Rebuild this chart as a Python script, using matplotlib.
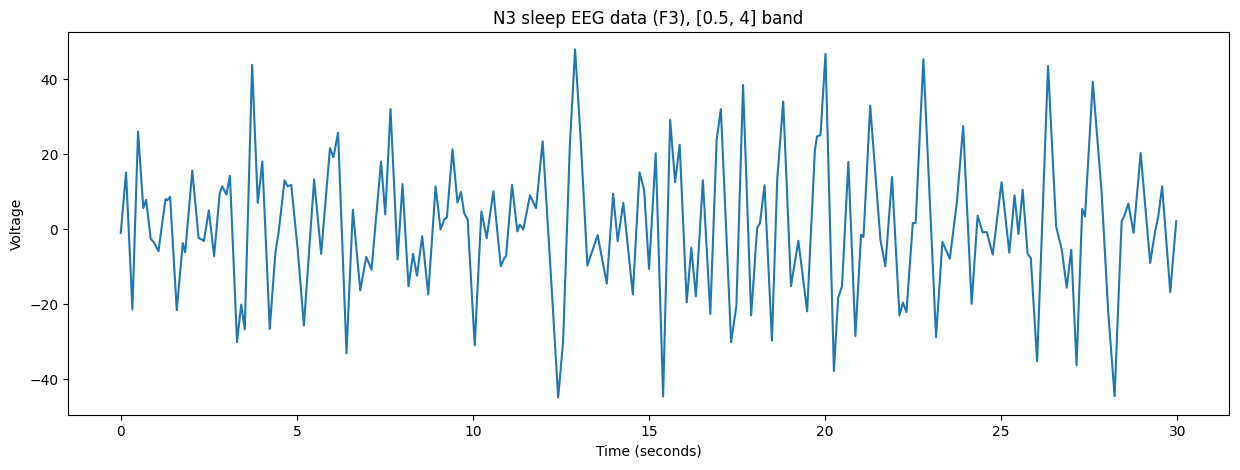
import matplotlib
matplotlib.use("Agg")
import matplotlib.pyplot as plt

time_s = [
    0.00, 0.15, 0.33, 0.49, 0.64, 0.72, 0.85, 0.94, 1.07, 1.27, 1.32, 1.40,
    1.59, 1.76, 1.83, 2.03, 2.21, 2.31, 2.36, 2.50, 2.65, 2.81, 2.88, 3.00,
    3.10, 3.30, 3.42, 3.52, 3.73, 3.89, 4.02, 4.23, 4.39, 4.48, 4.65, 4.74,
    4.84, 5.02, 5.20, 5.49, 5.69, 5.94, 6.04, 6.17, 6.41, 6.59, 6.80, 6.97,
    7.12, 7.39, 7.51, 7.66, 7.86, 8.00, 8.17, 8.30, 8.41, 8.56, 8.73, 8.94,
    9.08, 9.19, 9.26, 9.42, 9.56, 9.66, 9.75, 9.85, 10.05, 10.24, 10.39, 10.58,
    10.79, 10.89, 10.94, 11.11, 11.26, 11.33, 11.43, 11.62, 11.79, 11.98, 12.21, 12.42,
    12.56, 12.66, 12.75, 12.90, 13.06, 13.25, 13.54, 13.80, 13.98, 14.11, 14.27, 14.54,
    14.73, 14.86, 15.00, 15.19, 15.40, 15.60, 15.74, 15.87, 16.07, 16.20, 16.33, 16.53,
    16.74, 16.92, 17.04, 17.33, 17.48, 17.67, 17.90, 18.07, 18.15, 18.28, 18.49, 18.64,
    18.81, 19.03, 19.24, 19.49, 19.71, 19.77, 19.87, 20.01, 20.25, 20.37, 20.48, 20.66,
    20.86, 21.02, 21.09, 21.28, 21.57, 21.71, 21.90, 22.11, 22.21, 22.31, 22.49, 22.57,
    22.79, 23.15, 23.33, 23.54, 23.74, 23.92, 24.16, 24.33, 24.47, 24.59, 24.76, 25.01,
    25.23, 25.38, 25.49, 25.61, 25.75, 25.84, 26.02, 26.33, 26.56, 26.72, 26.86, 26.99,
    27.14, 27.30, 27.38, 27.60, 27.85, 28.04, 28.22, 28.42, 28.49, 28.61, 28.76, 28.96,
    29.23, 29.37, 29.46, 29.57, 29.80, 29.97,
]

voltage = [
    -1.0, 15.1, -21.4, 26.0, 5.6, 7.8, -2.6, -3.5, -5.9, 8.0, 7.7, 8.6,
    -21.6, -3.7, -6.2, 15.6, -2.4, -2.8, -3.2, 5.0, -7.2, 9.6, 11.4, 9.2,
    14.2, -30.1, -20.1, -26.7, 43.8, 7.0, 18.0, -26.6, -6.3, -1.0, 13.0, 11.4,
    11.8, -5.0, -25.7, 13.2, -6.6, 21.6, 19.2, 25.7, -33.1, 5.2, -16.3, -7.4,
    -10.8, 18.0, 3.9, 32.0, -8.1, 12.0, -15.2, -6.6, -12.4, -1.9, -17.4, 11.4,
    -0.1, 2.7, 3.1, 21.3, 7.1, 9.9, 4.3, 2.5, -31.0, 4.7, -2.4, 10.1,
    -9.9, -7.7, -7.2, 11.8, -0.6, 1.2, -0.1, 9.0, 5.6, 23.4, -11.7, -44.9,
    -30.0, -3.0, 22.0, 47.9, 23.8, -9.7, -1.6, -14.5, 9.4, -3.2, 7.0, -17.4,
    15.1, 10.5, -10.6, 20.2, -44.6, 29.1, 12.5, 22.5, -19.5, -5.0, -17.9, 13.0,
    -22.6, 23.8, 32.0, -30.1, -20.5, 38.4, -23.0, 0.3, 1.6, 11.7, -29.7, 13.2,
    34.0, -15.2, -3.1, -21.9, 21.1, 24.7, 25.1, 46.7, -37.8, -18.3, -15.2, 17.9,
    -28.5, -1.5, -2.1, 32.9, -2.8, -9.9, 13.9, -23.0, -19.6, -22.1, 1.6, 1.6,
    45.3, -28.8, -3.4, -7.9, 7.0, 27.5, -19.9, 3.6, -0.8, -0.8, -6.8, 12.5,
    -6.3, 9.0, -1.3, 10.5, -6.6, -7.7, -35.2, 43.5, 0.7, -5.5, -15.6, -5.5,
    -36.3, 5.4, 3.4, 39.3, 10.0, -22.3, -44.5, 2.1, 3.4, 6.8, -1.0, 20.3,
    -9.0, -0.6, 3.4, 11.4, -16.8, 2.1,
]

fig = plt.figure(figsize=(12.4, 4.7), dpi=100)
ax = fig.add_axes([68 / 1240, 55 / 470, 1161 / 1240, 383 / 470])
ax.plot(time_s, voltage, color="#1f77b4", linewidth=1.5)
ax.set_title("N3 sleep EEG data (F3), [0.5, 4] band")
ax.set_xlabel("Time (seconds)")
ax.set_ylabel("Voltage")
fig.savefig("out.png", dpi=100)
